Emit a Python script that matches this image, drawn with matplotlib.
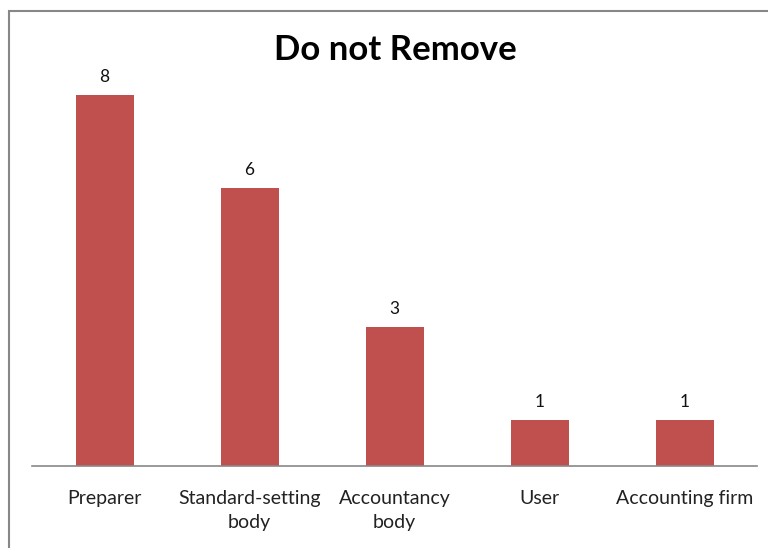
import matplotlib.pyplot as plt
from matplotlib.patches import Rectangle

categories = ['Preparer', 'Standard-setting\nbody', 'Accountancy\nbody', 'User', 'Accounting firm']
values = [8, 6, 3, 1, 1]

W, H = 768, 548
fig = plt.figure(figsize=(W / 100, H / 100), dpi=100)
plt.rcParams['font.family'] = ['Lato', 'DejaVu Sans']

# outer chart frame (only left and top are inside the crop)
fig.patches.append(Rectangle((8.5 / W, -0.1), 1.2, (H - 11) / H + 0.1,
                             transform=fig.transFigure, fill=False,
                             edgecolor='#878787', linewidth=1.5))

left, right, base = 32, 757, 466
unit = 46.4
top = base - 9 * unit
ax = fig.add_axes([left / W, 1 - base / H, (right - left) / W, (base - top) / H])
ax.set_xlim(-0.5, len(values) - 0.5)
ax.set_ylim(0, 9)

x = range(len(values))
ax.bar(x, values, width=0.4, color='#C0504D')
for xi, v in zip(x, values):
    ax.annotate(str(v), (xi, v), xytext=(0, 7), textcoords='offset points',
                ha='center', va='bottom', fontsize=12.5, color='#111111')

for s in ['top', 'right', 'left']:
    ax.spines[s].set_visible(False)
ax.spines['bottom'].set_color('#888888')
ax.spines['bottom'].set_linewidth(1.2)
ax.set_yticks([])
ax.set_xticks(list(x))
ax.set_xticklabels(categories, fontsize=14, color='#222222', linespacing=1.5)
ax.tick_params(axis='x', length=0, pad=17)

fig.text(395 / W, 1 - 50 / H, 'Do not Remove', ha='center', va='center',
         fontsize=25, fontweight='bold', color='black')

fig.savefig('out.png', dpi=100)
